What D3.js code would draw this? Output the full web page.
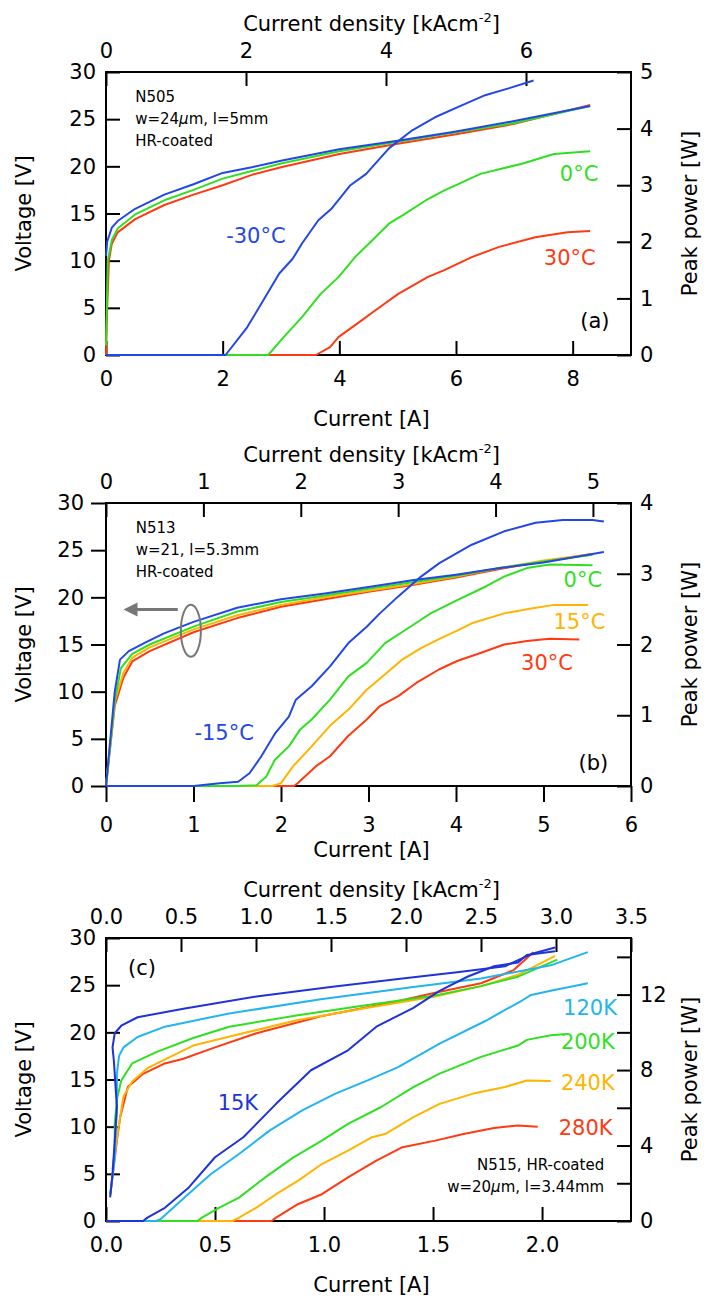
<!DOCTYPE html>
<html>
<head>
<meta charset="utf-8">
<script src="https://cdn.jsdelivr.net/npm/d3@7"></script>
<style>
  body { margin: 0; background: #fff; }
  text { font-family: "DejaVu Sans", sans-serif; fill: #000; }
</style>
</head>
<body>
<div id="chart"></div>
<script>
// ---------- panel (a) N505 : [current A, value] ----------
var aV_m30 = [[0,10.5],[0.02,12],[0.1,13.5],[0.2,14.2],[0.5,15.5],[1.0,17.0],[1.5,18.1],[2.0,19.3],[2.5,19.9],[3.0,20.6],[3.5,21.2],[4.0,21.8],[5.0,22.7],[6.0,23.7],[7.0,24.8],[8.3,26.4]];
var aV_0   = [[0,1],[0.03,10],[0.1,12.2],[0.2,13.4],[0.5,14.9],[1.0,16.4],[1.5,17.5],[2.0,18.7],[2.5,19.5],[3.0,20.3],[4.0,21.6],[5.0,22.6],[6.0,23.6],[7.0,24.6],[8.3,26.4]];
var aV_30  = [[0,0],[0.02,5],[0.05,10],[0.1,11.8],[0.2,13],[0.5,14.4],[1.0,15.9],[1.5,17.0],[2.0,18.0],[2.5,19.1],[3.0,19.9],[4.0,21.3],[5.0,22.4],[6.0,23.4],[7.0,24.5],[8.3,26.5]];
var aP_m30 = [[0,0],[2.05,0],[2.42,0.49],[2.7,0.97],[2.97,1.44],[3.2,1.7],[3.36,1.97],[3.64,2.38],[3.87,2.59],[4.19,3.0],[4.46,3.2],[4.85,3.65],[5.25,3.97],[5.64,4.2],[6.03,4.38],[6.5,4.59],[6.9,4.71],[7.33,4.85]];
var aP_0   = [[0,0],[2.78,0],[3.05,0.32],[3.36,0.67],[3.68,1.08],[3.99,1.38],[4.27,1.73],[4.54,2.0],[4.85,2.32],[5.09,2.47],[5.48,2.73],[5.8,2.91],[6.0,3.0],[6.42,3.2],[7.13,3.38],[7.68,3.55],[8.3,3.6]];
var aP_30  = [[0,0],[3.6,0],[3.84,0.14],[3.99,0.32],[4.3,0.55],[4.62,0.79],[5.01,1.08],[5.52,1.38],[5.8,1.5],[6.27,1.73],[6.74,1.91],[7.36,2.08],[7.91,2.17],[8.3,2.19]];

// ---------- panel (b) N513 ----------
var bV_m15 = [[0,0],[0.1,10],[0.16,13.4],[0.26,14.3],[0.47,15.3],[0.67,16.2],[1.0,17.4],[1.5,18.9],[2.0,19.8],[2.5,20.4],[3.0,21.1],[3.5,21.8],[4.0,22.4],[4.5,23.1],[5.0,23.7],[5.69,24.8]];
var bV_0   = [[0,0],[0.1,9],[0.17,12.5],[0.3,14.0],[0.5,15.0],[1.0,16.9],[1.5,18.5],[2.0,19.5],[2.5,20.2],[3.0,20.9],[3.5,21.6],[4.0,22.3],[4.5,23.1],[5.0,23.8],[5.56,24.5]];
var bV_15  = [[0,0],[0.1,9],[0.2,12.0],[0.3,13.6],[0.5,14.7],[1.0,16.6],[1.5,18.1],[2.0,19.2],[2.5,20.0],[3.0,20.7],[3.5,21.4],[4.0,22.2],[4.5,23.1],[5.0,23.9],[5.56,24.6]];
var bV_30  = [[0,0],[0.1,8.5],[0.2,11.5],[0.3,13.2],[0.5,14.3],[1.0,16.3],[1.5,17.8],[2.0,19.0],[2.5,19.8],[3.0,20.6],[3.5,21.3],[4.0,22.1],[4.5,23.0],[5.0,23.8],[5.56,24.6]];
var bP_m15 = [[0,0],[1.0,0],[1.3,0.04],[1.51,0.06],[1.64,0.18],[1.77,0.41],[1.93,0.74],[2.09,0.98],[2.17,1.22],[2.35,1.41],[2.56,1.69],[2.77,2.02],[2.98,2.25],[3.13,2.44],[3.34,2.68],[3.6,2.96],[3.81,3.15],[4.18,3.41],[4.55,3.6],[4.91,3.72],[5.22,3.76],[5.56,3.76],[5.69,3.74]];
var bP_0   = [[0,0],[1.5,0],[1.72,0.01],[1.83,0.13],[1.93,0.37],[2.09,0.56],[2.22,0.8],[2.35,0.94],[2.56,1.22],[2.77,1.55],[2.98,1.74],[3.19,2.02],[3.39,2.18],[3.6,2.35],[3.71,2.44],[4.02,2.63],[4.34,2.82],[4.55,2.96],[4.81,3.08],[5.07,3.13],[5.56,3.12]];
var bP_15  = [[0,0],[1.9,0],[2.0,0.04],[2.14,0.28],[2.35,0.56],[2.56,0.85],[2.77,1.08],[2.98,1.36],[3.19,1.58],[3.39,1.79],[3.6,1.95],[3.81,2.08],[4.02,2.2],[4.18,2.3],[4.55,2.44],[4.86,2.51],[5.12,2.56],[5.51,2.56]];
var bP_30  = [[0,0],[2.15,0],[2.19,0.04],[2.4,0.28],[2.56,0.42],[2.77,0.71],[2.98,0.94],[3.13,1.13],[3.34,1.27],[3.55,1.46],[3.81,1.65],[4.02,1.77],[4.28,1.88],[4.55,2.0],[4.81,2.05],[5.07,2.08],[5.41,2.07]];

// ---------- panel (c) N515 ----------
var cV_15K  = [[0.019,2.5],[0.03,5.0],[0.04,8.5],[0.05,12.1],[0.04,15.6],[0.036,17.0],[0.03,18.4],[0.04,19.9],[0.07,20.7],[0.145,21.6],[0.355,22.5],[0.69,23.8],[1.03,24.8],[1.36,25.7],[1.62,26.4],[1.83,27.0],[1.95,28.3],[2.06,29.0]];
var cV_120K = [[0.02,2.8],[0.04,6.7],[0.05,12.1],[0.05,15.6],[0.06,17.5],[0.08,18.4],[0.145,19.5],[0.27,20.6],[0.565,22.0],[0.985,23.5],[1.41,24.8],[1.72,25.7],[2.04,27.1],[2.21,28.5]];
var cV_200K = [[0.03,5.5],[0.04,7.4],[0.04,10.3],[0.05,12.9],[0.07,14.9],[0.12,16.7],[0.23,17.9],[0.4,19.4],[0.565,20.6],[0.88,21.8],[1.2,22.9],[1.51,23.9],[1.72,24.9],[1.89,25.9],[2.07,27.7]];
var cV_240K = [[0.02,2.8],[0.04,7],[0.06,10.3],[0.08,13.2],[0.12,14.8],[0.19,16.2],[0.25,16.9],[0.4,18.6],[0.61,19.8],[0.88,21.3],[1.2,22.6],[1.51,23.8],[1.72,24.9],[1.89,26.1],[2.06,28.1]];
var cV_280K = [[0.02,2.9],[0.05,8.5],[0.065,11.0],[0.1,14.2],[0.17,15.6],[0.27,16.7],[0.355,17.2],[0.5,18.4],[0.69,19.9],[0.985,21.7],[1.3,23.1],[1.51,24.2],[1.72,25.2],[1.87,26.6],[1.96,28.5]];
var cP_15K  = [[0,0],[0.17,0],[0.19,0.18],[0.27,0.7],[0.38,1.78],[0.5,3.38],[0.63,4.44],[0.78,6.21],[0.94,7.99],[1.11,9.05],[1.24,10.3],[1.41,11.3],[1.53,12.2],[1.66,12.96],[1.78,13.5],[1.89,13.7],[1.93,14.1],[2.06,14.3]];
var cP_120K = [[0,0],[0.23,0],[0.25,0.09],[0.36,1.24],[0.48,2.48],[0.61,3.55],[0.75,4.79],[0.9,5.86],[1.05,6.74],[1.2,7.45],[1.34,8.16],[1.53,9.4],[1.74,10.6],[1.91,11.7],[1.95,11.98],[2.04,12.2],[2.21,12.6]];
var cP_200K = [[0,0],[0.42,0],[0.44,0.18],[0.52,0.71],[0.61,1.24],[0.73,2.31],[0.86,3.37],[0.99,4.26],[1.11,5.15],[1.26,6.03],[1.41,7.1],[1.53,7.81],[1.72,8.7],[1.89,9.3],[1.93,9.6],[2.04,9.85],[2.1,9.9]];
var cP_240K = [[0,0],[0.58,0],[0.61,0.18],[0.69,0.71],[0.78,1.42],[0.88,2.13],[0.99,3.02],[1.11,3.73],[1.22,4.44],[1.28,4.61],[1.41,5.5],[1.53,6.21],[1.68,6.74],[1.83,7.1],[1.93,7.45],[2.04,7.42]];
var cP_280K = [[0,0],[0.76,0],[0.78,0.18],[0.88,0.89],[0.99,1.42],[1.11,2.31],[1.24,3.2],[1.36,3.91],[1.51,4.26],[1.64,4.61],[1.78,4.93],[1.89,5.06],[1.98,5.0]];

// ---------- ticks ----------
var voltTicks = [0, 5, 10, 15, 20, 25, 30];
var aCurTicks = [0, 2, 4, 6, 8], aJTicks = [0, 2, 4, 6], aPowTicks = [0, 1, 2, 3, 4, 5];
var bCurTicks = [0, 1, 2, 3, 4, 5, 6], bJTicks = [0, 1, 2, 3, 4, 5], bPowTicks = [0, 1, 2, 3, 4];
var cCurTicks = [0, 0.5, 1.0, 1.5, 2.0], cJTicks = [0, 0.5, 1.0, 1.5, 2.0, 2.5, 3.0, 3.5], cPowTicks = [0, 2, 4, 6, 8, 10, 12, 14];

var blue = "#2347e6", green = "#2fe021", red = "#ff3a12", orange = "#ffb400", sky = "#22b4f0", navy = "#1f33d8";

var svg = d3.select("#chart").append("svg").attr("width", 714).attr("height", 1299);

var left = 106, right = 631, ph = 283;

function panel(p) {
    var bottom = p.top + ph;
    var x = d3.scaleLinear().domain([0, p.xMax]).range([left, right]);
    var xj = d3.scaleLinear().domain([0, p.xMax / p.area]).range([left, right]);
    var y = d3.scaleLinear().domain([0, 30]).range([bottom, p.top]);
    var yp = d3.scaleLinear().domain([0, p.pMax]).range([bottom, p.top]);
    var g = svg.append("g");
    var tk = p.outward ? 16 : -14;

    g.append("g").attr("class", "ax").attr("transform", "translate(0," + bottom + ")")
        .call(d3.axisBottom(x).tickValues(p.xTicks).tickFormat(p.xFmt).tickSizeInner(tk).tickSizeOuter(0).tickPadding(p.outward ? 15 : 16));
    g.append("g").attr("class", "ax").attr("transform", "translate(0," + p.top + ")")
        .call(d3.axisTop(xj).tickValues(p.jTicks).tickFormat(p.jFmt).tickSizeInner(-14).tickSizeOuter(0).tickPadding(14));
    g.append("g").attr("class", "ax").attr("transform", "translate(" + left + ",0)")
        .call(d3.axisLeft(y).tickValues(voltTicks).tickSizeInner(p.outward ? 15 : -14).tickSizeOuter(0).tickPadding(p.outward ? 7 : 10));
    g.append("g").attr("class", "ax").attr("transform", "translate(" + right + ",0)")
        .call(d3.axisRight(yp).tickValues(p.pTicks).tickFormat(p.pFmt).tickSizeInner(-14).tickSizeOuter(0).tickPadding(9));
    g.selectAll(".ax .domain").remove();
    g.selectAll(".ax line").attr("stroke", "#000").attr("stroke-width", 2);
    g.selectAll(".ax text").style("font-size", "21px").attr("fill", "#000");

    g.append("rect").attr("x", left).attr("y", p.top).attr("width", right - left).attr("height", ph)
        .attr("fill", "none").attr("stroke", "#000").attr("stroke-width", 2);

    var lv = d3.line().x(function(d) { return x(d[0]); }).y(function(d) { return y(d[1]); });
    var lp = d3.line().x(function(d) { return x(d[0]); }).y(function(d) { return yp(d[1]); });
    p.series.forEach(function(s) {
        g.append("path").datum(s.v).attr("d", lv).attr("fill", "none").attr("stroke", s.c).attr("stroke-width", 2).attr("stroke-linejoin", "round");
    });
    p.series.forEach(function(s) {
        g.append("path").datum(s.p).attr("d", lp).attr("fill", "none").attr("stroke", s.c).attr("stroke-width", 2).attr("stroke-linejoin", "round");
    });

    // axis titles
    var t = g.append("text").attr("x", (left + right) / 2 + 3).attr("y", p.top - 41).attr("text-anchor", "middle").style("font-size", "21px");
    t.append("tspan").text("Current density [kAcm");
    t.append("tspan").attr("dy", -9).style("font-size", "13px").text("-2");
    t.append("tspan").attr("dy", 9).text("]");
    g.append("text").attr("x", (left + right) / 2 + 3).attr("y", bottom + 71).attr("text-anchor", "middle").style("font-size", "21px").text("Current [A]");
    g.append("text").attr("transform", "translate(31," + (p.top + ph / 2) + ") rotate(-90)").attr("text-anchor", "middle").style("font-size", "21px").text("Voltage [V]");
    g.append("text").attr("transform", "translate(697," + (p.top + ph / 2) + ") rotate(-90)").attr("text-anchor", "middle").style("font-size", "21px").text("Peak power [W]");

    // curve labels
    p.labels.forEach(function(l) {
        g.append("text").attr("x", x(l.i)).attr("y", y(l.v)).attr("dy", "0.36em").attr("text-anchor", "middle")
            .style("font-size", "21px").style("fill", l.c || "#000").text(l.t);
    });
    // sample note
    p.note.forEach(function(n, k) {
        var tx = g.append("text").attr("x", x(p.noteAt[0])).attr("y", y(p.noteAt[1]) + k * 22).attr("text-anchor", p.noteAnchor)
            .style("font-size", "15px");
        n.forEach(function(part) {
            tx.append("tspan").style("font-style", part[1] ? "italic" : "normal").text(part[0]);
        });
    });
    return { g: g, x: x, y: y };
}

panel({
    top: 72, xMax: 9, area: 1.2, pMax: 5,
    xTicks: aCurTicks, jTicks: aJTicks, pTicks: aPowTicks,
    xFmt: d3.format("d"), jFmt: d3.format("d"), pFmt: d3.format("d"),
    series: [
        { v: aV_30, p: aP_30, c: red },
        { v: aV_0, p: aP_0, c: green },
        { v: aV_m30, p: aP_m30, c: blue }
    ],
    labels: [
        { t: "-30°C", i: 2.57, v: 12.7, c: blue },
        { t: "0°C", i: 8.11, v: 19.25, c: green },
        { t: "30°C", i: 7.95, v: 10.35, c: red },
        { t: "(a)", i: 8.38, v: 3.67 }
    ],
    noteAt: [0.5, 26.8], noteAnchor: "start",
    note: [[["N505"]], [["w=24"], ["μ", true], ["m, l=5mm"]], [["HR-coated"]]]
});

var pb = panel({
    top: 503, xMax: 6, area: 1.113, pMax: 4, outward: true,
    xTicks: bCurTicks, jTicks: bJTicks, pTicks: bPowTicks,
    xFmt: d3.format("d"), jFmt: d3.format("d"), pFmt: d3.format("d"),
    series: [
        { v: bV_30, p: bP_30, c: red },
        { v: bV_15, p: bP_15, c: orange },
        { v: bV_0, p: bP_0, c: green },
        { v: bV_m15, p: bP_m15, c: blue }
    ],
    labels: [
        { t: "0°C", i: 5.45, v: 21.9, c: green },
        { t: "15°C", i: 5.41, v: 17.4, c: orange },
        { t: "30°C", i: 5.04, v: 13.05, c: red },
        { t: "-15°C", i: 1.35, v: 5.7, c: blue },
        { t: "(b)", i: 5.57, v: 2.55 }
    ],
    noteAt: [0.34, 26.8], noteAnchor: "start",
    note: [[["N513"]], [["w=21, l=5.3mm"]], [["HR-coated"]]]
});

// ellipse + arrow marking the voltage curves
pb.g.append("ellipse").attr("cx", pb.x(0.97)).attr("cy", pb.y(16.45)).attr("rx", 10).attr("ry", 26)
    .attr("fill", "none").attr("stroke", "#777").attr("stroke-width", 2);
pb.g.append("line").attr("x1", pb.x(0.82)).attr("x2", pb.x(0.33)).attr("y1", pb.y(18.7)).attr("y2", pb.y(18.7))
    .attr("stroke", "#777").attr("stroke-width", 3);
pb.g.append("path").attr("fill", "#777")
    .attr("d", "M" + pb.x(0.2) + "," + pb.y(18.7) + "l14,-7l0,14z");

panel({
    top: 938, xMax: 2.408, area: 0.688, pMax: 15,
    xTicks: cCurTicks, jTicks: cJTicks, pTicks: cPowTicks,
    xFmt: d3.format(".1f"), jFmt: d3.format(".1f"), pFmt: function(d) { return d % 4 === 0 ? d : ""; },
    series: [
        { v: cV_280K, p: cP_280K, c: red },
        { v: cV_240K, p: cP_240K, c: orange },
        { v: cV_200K, p: cP_200K, c: green },
        { v: cV_120K, p: cP_120K, c: sky },
        { v: cV_15K, p: cP_15K, c: navy }
    ],
    labels: [
        { t: "120K", i: 2.22, v: 22.6, c: sky },
        { t: "200K", i: 2.21, v: 19.0, c: green },
        { t: "240K", i: 2.21, v: 14.7, c: orange },
        { t: "280K", i: 2.2, v: 9.9, c: red },
        { t: "15K", i: 0.605, v: 12.6, c: navy },
        { t: "(c)", i: 0.165, v: 26.9 }
    ],
    noteAt: [2.285, 5.43], noteAnchor: "end",
    note: [[["N515, HR-coated"]], [["w=20"], ["μ", true], ["m, l=3.44mm"]]]
});
</script>
</body>
</html>
